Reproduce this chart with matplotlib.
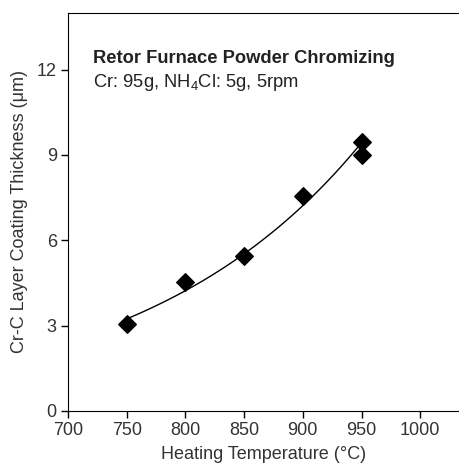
import matplotlib
matplotlib.use("Agg")
import matplotlib.pyplot as plt
import numpy as np

plt.rcParams['font.family'] = ['Liberation Sans', 'DejaVu Sans']
plt.rcParams['mathtext.fontset'] = 'custom'
plt.rcParams['mathtext.rm'] = 'Liberation Sans'

# measured coating thickness
temps = [750, 800, 850, 900, 950, 950]
thickness = [3.05, 4.55, 5.45, 7.55, 9.45, 9.0]
xticks = [700, 750, 800, 850, 900, 950, 1000]
yticks = [0, 3, 6, 9, 12]

fig = plt.figure(figsize=(4.59, 4.74), dpi=100)
ax = fig.add_axes([0.148, 0.133, 0.852, 0.840])

# exponential trend line through the data
t = np.array(temps, dtype=float)
k, b = np.polyfit(t, np.log(thickness), 1)
tt = np.linspace(750, 950, 100)
ax.plot(tt, np.exp(k * tt + b), color="black", lw=1.0)

ax.scatter(temps, thickness, marker="D", s=80, color="black", zorder=3)

ax.set_xlim(700, 1033)
ax.set_ylim(0, 14)
ax.set_xticks(xticks)
ax.set_yticks(yticks)
ax.tick_params(direction="out", labelsize=13, length=5, width=1,
               labelcolor="#333333", pad=3)
ax.spines['right'].set_visible(False)

ax.set_xlabel("Heating Temperature (°C)", fontsize=13, color="#333333", labelpad=5)
ax.set_ylabel("Cr-C Layer Coating Thickness (μm)", fontsize=13, color="#333333", labelpad=6)

ax.text(0.063, 0.873, "Retor Furnace Powder Chromizing", transform=ax.transAxes,
        fontsize=13.2, fontweight="bold", color="#222222")
ax.text(0.063, 0.813, "Cr: 95g, NH$_4$Cl: 5g, 5rpm", transform=ax.transAxes,
        fontsize=13.2, color="#222222")

fig.savefig("out.png", dpi=100)
